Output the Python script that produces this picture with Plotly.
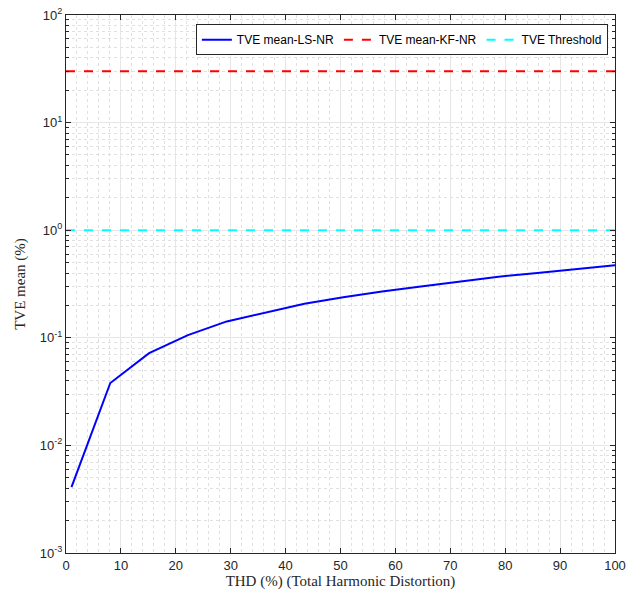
import numpy as np
import plotly.graph_objects as go

thd = [1.0, 8.07, 15.14, 22.21, 29.29, 36.36, 43.43, 50.5, 57.57, 64.64, 71.71, 78.79, 85.86, 92.93, 100.0]
tve_ls = [0.0041, 0.038, 0.072, 0.106, 0.142, 0.172, 0.207, 0.238, 0.270, 0.300, 0.335, 0.370, 0.400, 0.435, 0.472]
tve_kf = [30.0, 30.0]
tve_thr = [1.0, 1.0]
x_range = [0, 100]
x_tickvals = [0, 10, 20, 30, 40, 50, 60, 70, 80, 90, 100]
y_tickvals = [0.001, 0.01, 0.1, 1, 10, 100]
y_ticktext = ["10<sup>-3</sup>", "10<sup>-2</sup>", "10<sup>-1</sup>", "10<sup>0</sup>", "10<sup>1</sup>", "10<sup>2</sup>"]

fig = go.Figure()
fig.add_trace(go.Scatter(x=thd, y=tve_ls, mode="lines", name="TVE mean-LS-NR",
                         line=dict(color="#0000ff", width=2)))
fig.add_trace(go.Scatter(x=x_range, y=tve_kf, mode="lines", name="TVE mean-KF-NR",
                         line=dict(color="#ff0000", width=2, dash="dash")))
fig.add_trace(go.Scatter(x=x_range, y=tve_thr, mode="lines", name="TVE Threshold",
                         line=dict(color="#00ffff", width=2, dash="dash")))

axcol = "#262626"
fig.update_layout(
    width=627, height=596,
    margin=dict(l=66, r=12, t=15, b=43),
    paper_bgcolor="white", plot_bgcolor="white",
    font=dict(family="Liberation Sans, Arial", size=13, color=axcol),
    legend=dict(orientation="h", x=0.987, xanchor="right", y=0.983, yanchor="top",
                bgcolor="white", bordercolor=axcol, borderwidth=1,
                font=dict(size=12, color="black"), itemwidth=30,
                tracegroupgap=0),
    showlegend=True,
)
fig.update_xaxes(
    range=[x_range[0] - 0.0001, x_range[1]], tickmode="array", tickvals=x_tickvals,
    automargin=False, ticklabeloverflow="allow",
    showline=True, linecolor=axcol, linewidth=1, mirror="ticks",
    ticks="inside", ticklen=5, tickcolor=axcol,
    showgrid=True, gridcolor="#e6e6e6", gridwidth=1,
    zeroline=False,
    minor=dict(dtick=2, tick0=0, showgrid=True, gridcolor="#e0e0e0", griddash="dot", ticks=""),
    title=dict(text="THD (%) (Total Harmonic Distortion)",
               font=dict(family="Liberation Serif, DejaVu Serif", size=15, color=axcol),
               standoff=2),
)
fig.update_yaxes(
    type="log", range=[-3, 2], automargin=False, ticklabeloverflow="allow",
    tickmode="array", tickvals=y_tickvals, ticktext=y_ticktext,
    showline=True, linecolor=axcol, linewidth=1, mirror="ticks",
    ticks="inside", ticklen=5, tickcolor=axcol,
    showgrid=True, gridcolor="#e6e6e6", gridwidth=1,
    zeroline=False,
    minor=dict(dtick="D1", showgrid=True, gridcolor="#e0e0e0", griddash="dot",
               ticks="inside", ticklen=3, tickcolor=axcol),
    title=dict(text="TVE mean (%)",
               font=dict(family="Liberation Serif, DejaVu Serif", size=15, color=axcol),
               standoff=10),
)
fig.write_html("out.html", config={"displayModeBar": False},
               post_script="document.body.style.margin='0';document.body.style.overflow='hidden';")
